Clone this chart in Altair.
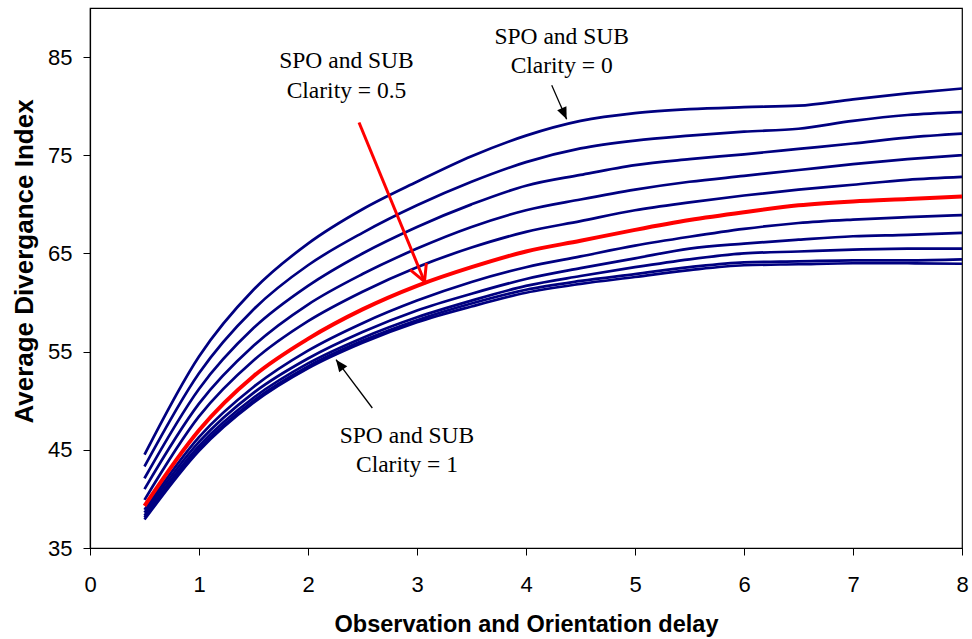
import altair as alt
import pandas as pd

# Observation and orientation delay (x) and the clarity level of each curve
delay = [0.5, 1.0, 1.5, 2.0, 2.5, 3.0, 3.5, 4.0, 4.5, 5.0, 5.5, 6.0, 6.5, 7.0, 7.5, 8.0]
clarity = [0.0, 0.1, 0.2, 0.3, 0.4, 0.5, 0.6, 0.7, 0.8, 0.9, 1.0]

# Average divergence index, one list per clarity level
div_c00 = [44.5, 54.5, 61.3, 66.0, 69.5, 72.3, 74.9, 77.0, 78.5, 79.3, 79.7, 79.9, 80.05, 80.7, 81.3, 81.8]
div_c01 = [43.3, 52.8, 59.3, 63.8, 67.1, 69.9, 72.3, 74.3, 75.7, 76.5, 77.0, 77.4, 77.7, 78.5, 79.1, 79.4]
div_c02 = [42.1, 51.2, 57.4, 61.7, 65.0, 67.7, 70.0, 71.9, 73.0, 74.0, 74.6, 75.1, 75.65, 76.2, 76.8, 77.2]
div_c03 = [41.0, 49.7, 55.6, 59.8, 62.9, 65.5, 67.7, 69.4, 70.5, 71.5, 72.3, 72.9, 73.5, 74.1, 74.6, 75.0]
div_c04 = [39.9, 48.4, 54.1, 58.1, 61.1, 63.6, 65.6, 67.2, 68.3, 69.4, 70.2, 70.9, 71.5, 72.0, 72.5, 72.8]
div_c05 = [39.3, 47.0, 52.5, 56.3, 59.3, 61.7, 63.6, 65.2, 66.3, 67.4, 68.4, 69.2, 69.9, 70.3, 70.55, 70.8]
div_c06 = [38.9, 46.3, 51.4, 55.1, 57.9, 60.2, 62.1, 63.6, 64.7, 65.8, 66.7, 67.5, 68.1, 68.45, 68.7, 68.9]
div_c07 = [38.6, 45.8, 50.8, 54.3, 57.0, 59.2, 60.9, 62.4, 63.5, 64.5, 65.5, 66.0, 66.4, 66.75, 66.9, 67.1]
div_c08 = [38.3, 45.4, 50.3, 53.8, 56.4, 58.5, 60.2, 61.7, 62.7, 63.6, 64.4, 65.0, 65.2, 65.4, 65.5, 65.5]
div_c09 = [38.1, 45.1, 50.0, 53.5, 56.1, 58.2, 59.9, 61.3, 62.2, 62.9, 63.6, 64.1, 64.2, 64.3, 64.3, 64.4]
div_c10 = [37.9, 44.9, 49.8, 53.3, 55.9, 58.0, 59.6, 61.0, 61.9, 62.6, 63.3, 63.8, 63.9, 64.0, 64.0, 63.95]

series = [div_c00, div_c01, div_c02, div_c03, div_c04, div_c05,
          div_c06, div_c07, div_c08, div_c09, div_c10]
highlight = 0.5

# Annotation labels (two lines each) in data coordinates
label_x = [2.353, 2.353, 4.327, 4.327, 2.908, 2.908]
label_y = [83.9, 80.8, 86.33, 83.37, 45.68, 42.79]
label_text = ["SPO and SUB", "Clarity = 0.5", "SPO and SUB", "Clarity = 0",
              "SPO and SUB", "Clarity = 1"]

# Arrows: start point, tip point, head rotation
arrow_x = [2.468, 4.236, 2.590]
arrow_y = [78.34, 82.14, 49.26]
arrow_x2 = [3.069, 4.373, 2.257]
arrow_y2 = [62.14, 78.67, 54.18]
arrow_angle = [157.6, 156.2, 323.1]
arrow_kind = ["red", "black", "black"]

rows = []
for c, vals in zip(clarity, series):
    for d, v in zip(delay, vals):
        rows.append({"delay": d, "index": v, "clarity": c})
df = pd.DataFrame(rows)

labels = pd.DataFrame({"x": label_x, "y": label_y, "text": label_text})
arrows = pd.DataFrame({"x": arrow_x, "y": arrow_y, "x2": arrow_x2, "y2": arrow_y2,
                       "angle": arrow_angle, "kind": arrow_kind})

x_scale = alt.Scale(domain=[0, 8], nice=False, zero=False)
y_scale = alt.Scale(domain=[35, 90], nice=False, zero=False)

x_axis = alt.Axis(values=list(range(9)), format="d", title="Observation and Orientation delay",
                  labelBaseline="alphabetic", labelPadding=36, labelFlush=False,
                  titleY=83, titleBaseline="alphabetic", titleFontSize=23.5)
y_axis = alt.Axis(values=[35, 45, 55, 65, 75, 85], format="d", title="Average Divergance Index",
                  labelPadding=11, labelFlush=False, titleX=-58, titleY=253,
                  titleBaseline="alphabetic", titleAlign="center", titleFontSize=26)


def xenc(field):
    return alt.X(field, type="quantitative", scale=x_scale, axis=x_axis)


def yenc(field):
    return alt.Y(field, type="quantitative", scale=y_scale, axis=y_axis)


base = alt.Chart(df)

blue_lines = base.transform_filter(alt.datum.clarity != highlight).mark_line(
    color="#000080", strokeWidth=2.7, interpolate="monotone"
).encode(
    x=xenc("delay"),
    y=yenc("index"),
    detail="clarity:N",
)

red_line = base.transform_filter(alt.datum.clarity == highlight).mark_line(
    color="#FF0000", strokeWidth=4, interpolate="monotone"
).encode(
    x=xenc("delay"),
    y=yenc("index"),
)

text_layer = alt.Chart(labels).mark_text(
    font="Liberation Serif", fontSize=23.5, color="black", baseline="alphabetic", align="center"
).encode(
    x=xenc("x"),
    y=yenc("y"),
    text="text:N",
)

arrow_color = alt.Scale(domain=["red", "black"], range=["#FF0000", "#000000"])

shafts = alt.Chart(arrows).mark_rule().encode(
    x=xenc("x"),
    y=yenc("y"),
    x2="x2:Q",
    y2="y2:Q",
    color=alt.Color("kind:N", scale=arrow_color, legend=None),
    strokeWidth=alt.condition(alt.datum.kind == "red", alt.value(3), alt.value(1.3)),
)

red_head = alt.Chart(arrows).transform_filter(alt.datum.kind == "red").mark_point(
    shape="M -0.47 0.88 L 0 0 L 0.47 0.88", size=1369, filled=False,
    color="#FF0000", strokeWidth=3, opacity=1
).encode(
    x=xenc("x2"),
    y=yenc("y2"),
    angle=alt.Angle("angle:Q", scale=None),
)

black_heads = alt.Chart(arrows).transform_filter(alt.datum.kind == "black").mark_point(
    shape="M 0 0 L -0.42 1 L 0.42 1 Z", size=576, filled=True,
    color="#000000", opacity=1
).encode(
    x=xenc("x2"),
    y=yenc("y2"),
    angle=alt.Angle("angle:Q", scale=None),
)

chart = alt.layer(
    blue_lines, red_line, shafts, red_head, black_heads, text_layer
).properties(
    width=872, height=540,
    autosize=alt.AutoSizeParams(type="none"),
    padding={"left": 90, "top": 8, "right": 10, "bottom": 91},
    background="white",
).configure_view(
    stroke="black", strokeWidth=1.2
).configure_axis(
    grid=False, domainColor="black", domainWidth=1.2, tickColor="black", tickSize=7,
    labelFont="Liberation Sans", labelFontSize=22, labelColor="black",
    titleFont="Liberation Sans", titleFontWeight="bold", titleColor="black",
)

chart.save("out.html", embed_options={"renderer": "svg", "actions": False})
